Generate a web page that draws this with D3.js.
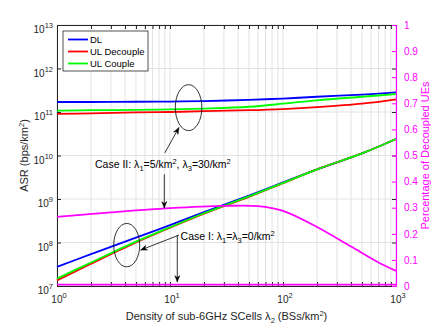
<!DOCTYPE html>
<html>
<head>
<meta charset="utf-8">
<script src="https://cdn.jsdelivr.net/npm/d3@7"></script>
<style>
  body { margin: 0; background: #fff; }
  text { font-family: "Liberation Sans", Arial, sans-serif; }
</style>
</head>
<body>
<div id="chart"></div>
<script>
// ---- data ----
const lambdas = [1, 2, 5, 10, 20, 50, 100, 200, 500, 1000];

// Case II: lambda1 = 5, lambda3 = 30
const dlCase2       = [1.70e11, 1.70e11, 1.72e11, 1.74e11, 1.78e11, 1.91e11, 2.04e11, 2.24e11, 2.51e11, 2.82e11];
const ulDecCase2    = [9.1e10, 9.3e10, 9.8e10, 1.00e11, 1.05e11, 1.10e11, 1.17e11, 1.29e11, 1.55e11, 1.95e11];
const ulCoupleCase2 = [1.07e11, 1.10e11, 1.12e11, 1.15e11, 1.20e11, 1.32e11, 1.55e11, 1.86e11, 2.24e11, 2.57e11];

// Case I: lambda1 = lambda3 = 0
const dlCase1       = [2.75e7, 5.4e7, 1.29e8, 2.51e8, 5.0e8, 1.20e9, 2.40e9, 4.8e9, 1.12e10, 2.40e10];
const ulDecCase1    = [1.35e7, 3.24e7, 1.00e8, 2.19e8, 4.6e8, 1.12e9, 2.32e9, 4.8e9, 1.12e10, 2.40e10];
const ulCoupleCase1 = [1.48e7, 3.47e7, 1.05e8, 2.24e8, 4.7e8, 1.15e9, 2.34e9, 4.8e9, 1.12e10, 2.40e10];

// percentage of decoupled UEs (right axis)
const pctLambdas = [1, 3, 10, 30, 60, 100, 200, 400, 700, 1000];
const pctCase2   = [0.265, 0.282, 0.298, 0.307, 0.306, 0.288, 0.226, 0.151, 0.090, 0.058];
const pctCase1Lambdas = [1, 1000];
const pctCase1   = [0.005, 0.005];

const leftTickExps = [7, 8, 9, 10, 11, 12, 13];
const bottomTickExps = [0, 1, 2, 3];
const rightTicks = d3.range(0, 1.01, 0.1);

const legendNames = ["DL", "UL Decouple", "UL Couple"];
const colors = {dl: "#0000ff", dec: "#ff0000", cpl: "#00ff00", pct: "#ff00ff"};

// ---- layout ----
const width = 438, height = 329;
const margin = {top: 25, right: 42, bottom: 43, left: 57};
const axisColor = "#262626";

const svg = d3.select("#chart").append("svg")
  .attr("width", width)
  .attr("height", height);
svg.append("rect").attr("width", width).attr("height", height).attr("fill", "#fff");

const x = d3.scaleLog().domain([1, 1000]).range([margin.left, width - margin.right]);
const y = d3.scaleLog().domain([1e7, 1e13]).range([height - margin.bottom, margin.top]);
const yR = d3.scaleLinear().domain([0, 1]).range([height - margin.bottom, margin.top]);

const x0 = x.range()[0], x1 = x.range()[1];
const yB = y.range()[0], yT = y.range()[1];

// grid
const grid = svg.append("g").attr("stroke", "#e3e3e3").attr("stroke-width", 1);
grid.selectAll(".vg").data(x.ticks()).join("line")
  .attr("x1", d => x(d)).attr("x2", d => x(d))
  .attr("y1", yT).attr("y2", yB);
grid.selectAll(".hg").data(leftTickExps).join("line")
  .attr("x1", x0).attr("x2", x1)
  .attr("y1", d => y(10 ** d)).attr("y2", d => y(10 ** d));

// axes (ticks inward, MATLAB style)
const tickStyle = g => {
  g.select(".domain").attr("stroke", axisColor);
  g.selectAll(".tick line").attr("stroke", axisColor);
};
svg.append("g").attr("transform", `translate(0,${yB})`)
  .call(d3.axisBottom(x).tickValues(x.ticks()).tickSize(-4).tickSizeOuter(0).tickFormat(""))
  .call(tickStyle);
svg.append("g").attr("transform", `translate(0,${yT})`)
  .call(d3.axisTop(x).tickValues(x.ticks()).tickSize(-4).tickSizeOuter(0).tickFormat(""))
  .call(tickStyle);
svg.append("g").attr("transform", `translate(${x0},0)`)
  .call(d3.axisLeft(y).tickValues(leftTickExps.map(e => 10 ** e)).tickSize(-4).tickSizeOuter(0).tickFormat(""))
  .call(tickStyle);
// left-axis ticks mirrored on the right edge
svg.append("g").attr("transform", `translate(${x1},0)`)
  .call(d3.axisRight(y).tickValues(leftTickExps.map(e => 10 ** e)).tickSize(-4).tickSizeOuter(0).tickFormat(""))
  .call(g => g.select(".domain").remove())
  .call(g => g.selectAll(".tick line").attr("stroke", axisColor));

// power-of-ten tick labels
function powLabel(sel, base, exp) {
  sel.append("tspan").text(base);
  sel.append("tspan").attr("dy", -5).attr("font-size", 7.5).text(exp);
}
svg.append("g").selectAll("text").data(leftTickExps).join("text")
  .attr("x", x0 - 4).attr("y", d => y(10 ** d) + 8)
  .attr("text-anchor", "end").attr("font-size", 10).attr("fill", axisColor)
  .each(function(d) { powLabel(d3.select(this), "10", d); });
svg.append("g").selectAll("text").data(bottomTickExps).join("text")
  .attr("x", d => x(10 ** d) + 2).attr("y", yB + 17)
  .attr("text-anchor", "middle").attr("font-size", 10).attr("fill", axisColor)
  .each(function(d) { powLabel(d3.select(this), "10", d); });

// axis titles
svg.append("text")
  .attr("transform", `translate(28,${(yT + yB) / 2}) rotate(-90)`)
  .attr("text-anchor", "middle").attr("font-size", 11).attr("fill", axisColor)
  .call(t => {
    t.append("tspan").text("ASR (bps/km");
    t.append("tspan").attr("dy", -4).attr("font-size", 7.5).text("2");
    t.append("tspan").attr("dy", 4).text(")");
  });
svg.append("text")
  .attr("x", (x0 + x1) / 2).attr("y", 320)
  .attr("text-anchor", "middle").attr("font-size", 11).attr("fill", axisColor)
  .call(t => {
    t.append("tspan").text("Density of sub-6GHz SCells λ");
    t.append("tspan").attr("dy", 3).attr("font-size", 7.5).text("2");
    t.append("tspan").attr("dy", -3).text(" (BSs/km");
    t.append("tspan").attr("dy", -4).attr("font-size", 7.5).text("2");
    t.append("tspan").attr("dy", 4).text(")");
  });
svg.append("text")
  .attr("transform", `translate(429,${(yT + yB) / 2}) rotate(-90)`)
  .attr("text-anchor", "middle").attr("font-size", 11).attr("fill", colors.pct)
  .text("Percentage of Decoupled UEs");

// ---- lines ----
const curve = d3.curveCatmullRom.alpha(0.5);
const asrLine = d3.line().x(d => x(d[0])).y(d => y(d[1])).curve(curve);
const pctLine = d3.line().x(d => x(d[0])).y(d => yR(d[1])).curve(curve);
const zipL = vals => lambdas.map((l, i) => [l, vals[i]]);

const series = [
  {vals: dlCase1, c: colors.dl}, {vals: ulDecCase1, c: colors.dec}, {vals: ulCoupleCase1, c: colors.cpl},
  {vals: dlCase2, c: colors.dl}, {vals: ulDecCase2, c: colors.dec}, {vals: ulCoupleCase2, c: colors.cpl}
];
svg.append("g").selectAll("path").data(series).join("path")
  .attr("fill", "none").attr("stroke", d => d.c).attr("stroke-width", 1.8)
  .attr("d", d => asrLine(zipL(d.vals)));

svg.append("path")
  .attr("fill", "none").attr("stroke", colors.pct).attr("stroke-width", 1.8)
  .attr("d", pctLine(pctLambdas.map((l, i) => [l, pctCase2[i]])));
svg.append("path")
  .attr("fill", "none").attr("stroke", colors.pct).attr("stroke-width", 1.8)
  .attr("d", pctLine(pctCase1Lambdas.map((l, i) => [l, pctCase1[i]])));

// right axis (magenta)
svg.append("g").attr("transform", `translate(${x1},0)`)
  .call(d3.axisRight(yR).tickValues(rightTicks).tickSize(-4).tickSizeOuter(0).tickPadding(8)
    .tickFormat(d => d3.format("~g")(+d.toFixed(1))))
  .call(g => g.select(".domain").attr("stroke", colors.pct).attr("stroke-width", 1.2))
  .call(g => g.selectAll(".tick line").attr("stroke", colors.pct))
  .call(g => g.selectAll(".tick text").attr("fill", colors.pct).attr("font-size", 10)
    .attr("font-family", "Liberation Sans, Arial, sans-serif"));

// ---- legend ----
const lg = svg.append("g").attr("transform", `translate(${x0 + 6},${yT + 6})`);
lg.append("rect").attr("width", 85).attr("height", 40)
  .attr("fill", "#fff").attr("stroke", axisColor).attr("stroke-width", 0.8);
lg.selectAll(".li").data(legendNames).join("g")
  .attr("transform", (d, i) => `translate(0,${8.5 + i * 12})`)
  .each(function(d, i) {
    const g = d3.select(this);
    g.append("line").attr("x1", 5).attr("x2", 25)
      .attr("stroke", [colors.dl, colors.dec, colors.cpl][i]).attr("stroke-width", 1.8);
    g.append("text").attr("x", 27).attr("dy", "0.35em")
      .attr("font-size", 9.5).attr("fill", "#000").text(d);
  });

// ---- annotations (positions in data units) ----
const ann = svg.append("g").attr("stroke", "#000").attr("stroke-width", 0.8).attr("fill", "none");
const ellipses = [
  {l: 14.6, v: 1.26e11, rx: 13.3, ry: 23},
  {l: 4.14, v: 8.7e7, rx: 13, ry: 21.7}
];
ann.selectAll("ellipse").data(ellipses).join("ellipse")
  .attr("cx", d => x(d.l)).attr("cy", d => y(d.v))
  .attr("rx", d => d.rx).attr("ry", d => d.ry);

const arrows = [
  {from: [9.0, 1.15e10], to: [12.0, 4.4e10]},
  {from: [8.9, 3.7e9], to: [8.9, 6.2e8]},
  {from: [12.0, 1.48e8], to: [5.5, 6.7e7]},
  {from: [11.6, 1.48e8], to: [11.6, 1.23e7]}
];
arrows.forEach(a => {
  const xa = x(a.from[0]), ya = y(a.from[1]), xb = x(a.to[0]), yb = y(a.to[1]);
  ann.append("line").attr("x1", xa).attr("y1", ya).attr("x2", xb).attr("y2", yb);
  const ang = Math.atan2(yb - ya, xb - xa);
  const L = 6.5, W = 2.6, back = 4.5;
  const pt = (dl, dw) => [xb - dl * Math.cos(ang) - dw * Math.sin(ang), yb - dl * Math.sin(ang) + dw * Math.cos(ang)];
  const p = [[xb, yb], pt(L, W), pt(back, 0), pt(L, -W)];
  svg.append("path").attr("d", "M" + p.map(q => q.join(",")).join("L") + "Z")
    .attr("fill", "#000").attr("stroke", "#000").attr("stroke-width", 0.4);
});

const labelSize = 10.5;
function caseText(tx, parts) {
  const t = svg.append("text").attr("x", x(tx[0])).attr("y", y(tx[1]) + 4)
    .attr("font-size", labelSize).attr("fill", "#000");
  let shift = 0;
  parts.forEach(p => {
    const dy = (p.s || 0) - shift;
    shift = p.s || 0;
    const sp = t.append("tspan").attr("dy", dy).text(p.t);
    if (p.s) sp.attr("font-size", 7.5);
  });
}
caseText([2.17, 6.3e9], [
  {t: "Case II: λ"}, {t: "1", s: 3}, {t: "=5/km"}, {t: "2", s: -4}, {t: ", λ"},
  {t: "3", s: 3}, {t: "=30/km"}, {t: "2", s: -4}
]);
caseText([12.4, 1.4e8], [
  {t: "Case I: λ"}, {t: "1", s: 3}, {t: "=λ"}, {t: "3", s: 3}, {t: "=0/km"}, {t: "2", s: -4}
]);
</script>
</body>
</html>
